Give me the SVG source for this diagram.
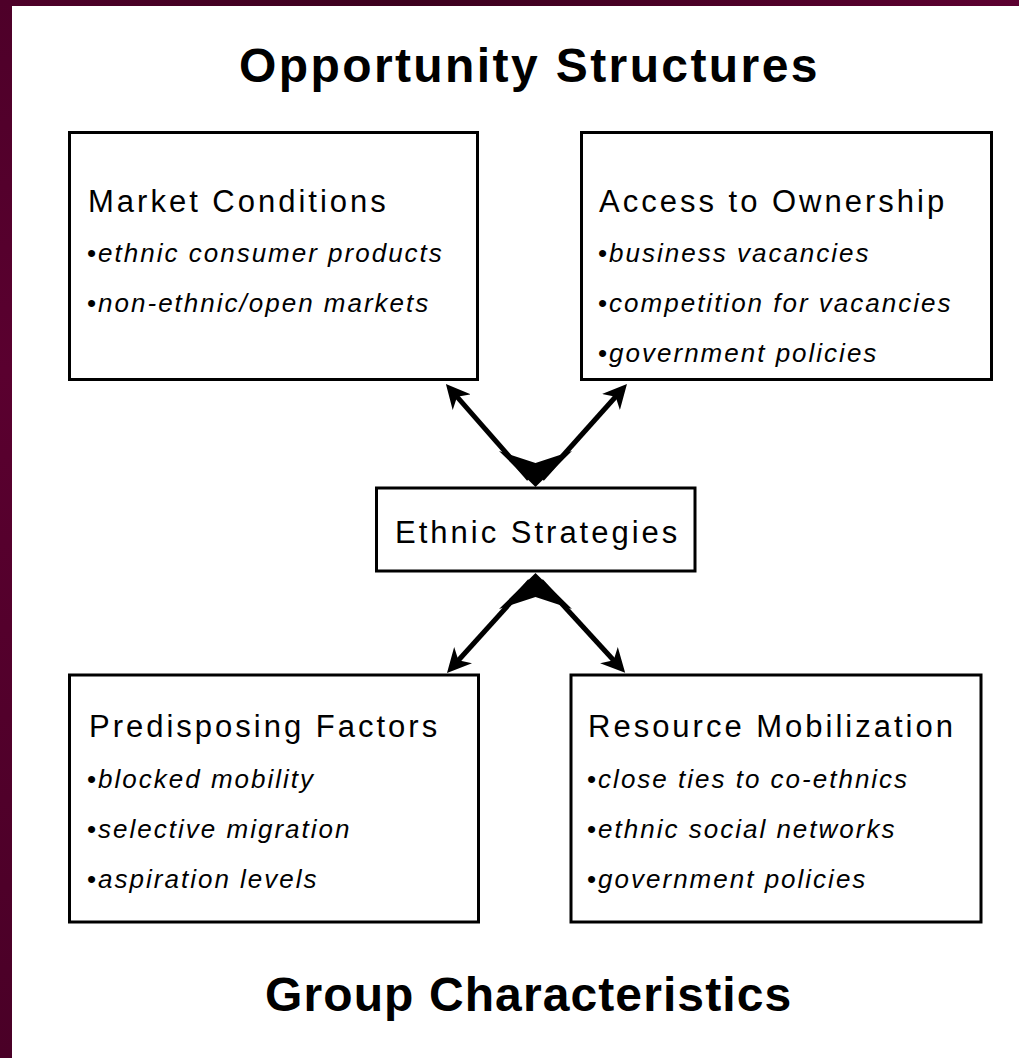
<svg xmlns="http://www.w3.org/2000/svg" width="1019" height="1058" viewBox="0 0 1019 1058">
<style>
.box{fill:#fff;stroke:#000;stroke-width:3}
.title{font-family:"Liberation Sans",Arial,sans-serif;font-weight:bold;font-size:48px;letter-spacing:2.4px;fill:#000}
.head{font-family:"Liberation Sans",Arial,sans-serif;font-size:31px;letter-spacing:3px;fill:#000}
.item{font-family:"Liberation Sans",Arial,sans-serif;font-size:26px;letter-spacing:2px;fill:#000}
.it{font-style:italic}
.conn{stroke:#000;stroke-width:5;fill:none}
.jhead{fill:#000;stroke:none}
</style>
<defs>
<linearGradient id="gTop" x1="0" y1="0" x2="1" y2="0">
<stop offset="0" stop-color="#4e0029"/>
<stop offset="0.4" stop-color="#3c001e"/>
<stop offset="1" stop-color="#5c0030"/>
</linearGradient>
<linearGradient id="gLeft" x1="0" y1="0" x2="0" y2="1">
<stop offset="0" stop-color="#4e0029"/>
<stop offset="0.35" stop-color="#5a002f"/>
<stop offset="1" stop-color="#4a0027"/>
</linearGradient>
<marker id="tip" markerUnits="userSpaceOnUse" viewBox="0 0 24 24" markerWidth="24" markerHeight="24" refX="14" refY="12" orient="auto-start-reverse">
<path d="M24,12 L0,0 L7,12 L0,24 Z" fill="#000"/>
</marker>
</defs>
<rect x="0" y="0" width="1019" height="1058" fill="#fff"/>
<rect x="0" y="0" width="1019" height="6" fill="url(#gTop)"/>
<rect x="0" y="0" width="12" height="1058" fill="url(#gLeft)"/>

<text class="title" x="239" y="82">Opportunity Structures</text>
<text class="title" x="265" y="1011" style="letter-spacing:1.1px">Group Characteristics</text>

<g id="market">
<rect class="box" x="69.5" y="132.5" width="408" height="247"/>
<text class="head" x="88" y="212">Market Conditions</text>
<text class="item" x="87" y="262">•<tspan class="it">ethnic consumer products</tspan></text>
<text class="item" x="87" y="312">•<tspan class="it">non-ethnic/open markets</tspan></text>
</g>

<g id="access">
<rect class="box" x="581.5" y="132.5" width="410" height="247"/>
<text class="head" x="599" y="212">Access to Ownership</text>
<text class="item" x="598" y="262">•<tspan class="it">business vacancies</tspan></text>
<text class="item" x="598" y="312">•<tspan class="it">competition for vacancies</tspan></text>
<text class="item" x="598" y="362">•<tspan class="it">government policies</tspan></text>
</g>

<g id="strategies">
<rect class="box" x="376.5" y="488" width="318.5" height="83"/>
<text class="head" x="395" y="543">Ethnic Strategies</text>
</g>

<g id="predisposing">
<rect class="box" x="69.5" y="675" width="409" height="247"/>
<text class="head" x="89" y="737">Predisposing Factors</text>
<text class="item" x="87" y="788">•<tspan class="it">blocked mobility</tspan></text>
<text class="item" x="87" y="838">•<tspan class="it">selective migration</tspan></text>
<text class="item" x="87" y="888">•<tspan class="it">aspiration levels</tspan></text>
</g>

<g id="resource">
<rect class="box" x="571" y="675" width="410" height="247"/>
<text class="head" x="588" y="737">Resource Mobilization</text>
<text class="item" x="587" y="788">•<tspan class="it">close ties to co-ethnics</tspan></text>
<text class="item" x="587" y="838">•<tspan class="it">ethnic social networks</tspan></text>
<text class="item" x="587" y="888">•<tspan class="it">government policies</tspan></text>
</g>

<g id="connectors">
<line class="conn" x1="452.5" y1="391.6" x2="529" y2="479" marker-start="url(#tip)"/>
<line class="conn" x1="620.3" y1="391.5" x2="542" y2="479" marker-start="url(#tip)"/>
<path class="jhead" d="M535.5,487 L499,451 L535.5,463 L572,451 Z"/>
<line class="conn" x1="530" y1="581" x2="453.7" y2="665.5" marker-end="url(#tip)"/>
<line class="conn" x1="541" y1="581" x2="618.4" y2="665.5" marker-end="url(#tip)"/>
<path class="jhead" d="M535.5,573 L499,609 L535.5,597 L572,609 Z"/>
</g>
</svg>
